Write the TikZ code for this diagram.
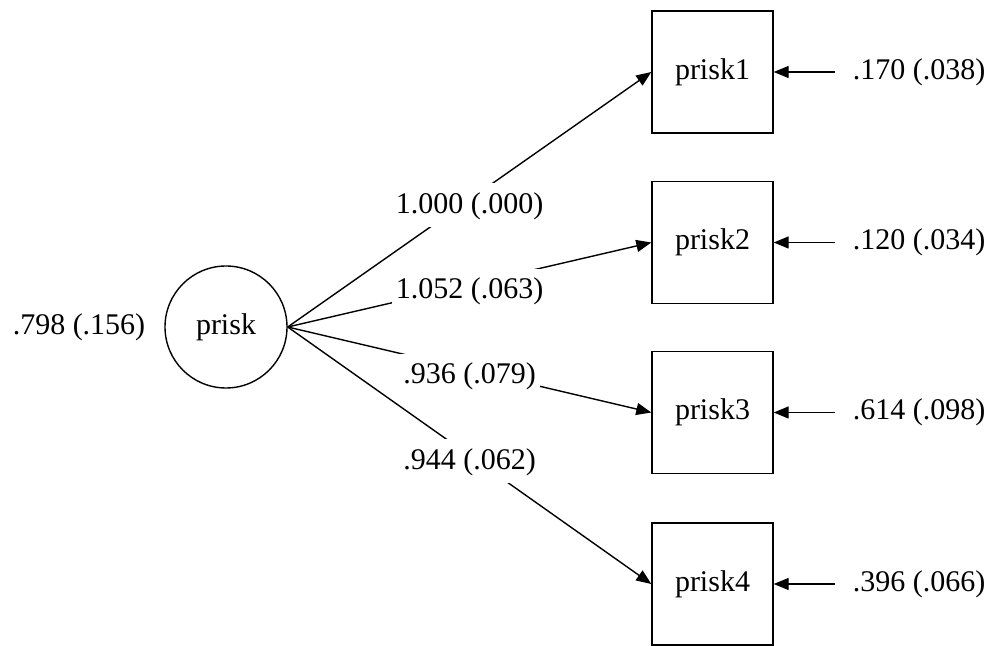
\documentclass[tikz,border=0pt]{standalone}
\usepackage{fontspec}
\setmainfont{Liberation Serif}
\usetikzlibrary{arrows.meta}
\begin{document}
\begin{tikzpicture}[x=0.5pt,y=-0.5pt,
  font=\fontsize{15}{18}\selectfont,
  every node/.style={inner sep=0pt},
  latent/.style={draw,circle,minimum size=61pt,line width=0.7pt},
  obs/.style={draw,minimum width=60.5pt,minimum height=61pt,line width=0.7pt},
  arr/.style={-{Triangle[length=7.5pt,width=6pt]},line width=0.7pt},
  elab/.style={fill=white,inner xsep=2pt,inner ysep=4pt,text height=11pt,text depth=3pt,yshift=-3pt}]
\useasboundingbox (0,0) rectangle (992,646);
\node[latent] (f) at (226,327) {prisk};
\node (fv) at (79,327) {.798 (.156)};
\node[obs] (p1) at (712.5,72) {prisk1};
\node[obs] (p2) at (712.5,242.5) {prisk2};
\node[obs] (p3) at (712.5,412.5) {prisk3};
\node[obs] (p4) at (712.5,584) {prisk4};
\foreach \i/\y/\t in {1/72/.170 (.038),2/242.5/.120 (.034),3/412.5/.614 (.098),4/584/.396 (.066)}{
  \node (e\i) at (919,\y) {\t};
  \coordinate (s\i) at (835,\y);
  \draw[arr] (s\i) -- (p\i);
}
\draw[arr] (f.east) -- node[elab] {1.000 (.000)} (p1.west);
\draw[arr] (f.east) -- node[elab] {1.052 (.063)} (p2.west);
\draw[arr] (f.east) -- node[elab] {.936 (.079)} (p3.west);
\draw[arr] (f.east) -- node[elab] {.944 (.062)} (p4.west);
\end{tikzpicture}
\end{document}
